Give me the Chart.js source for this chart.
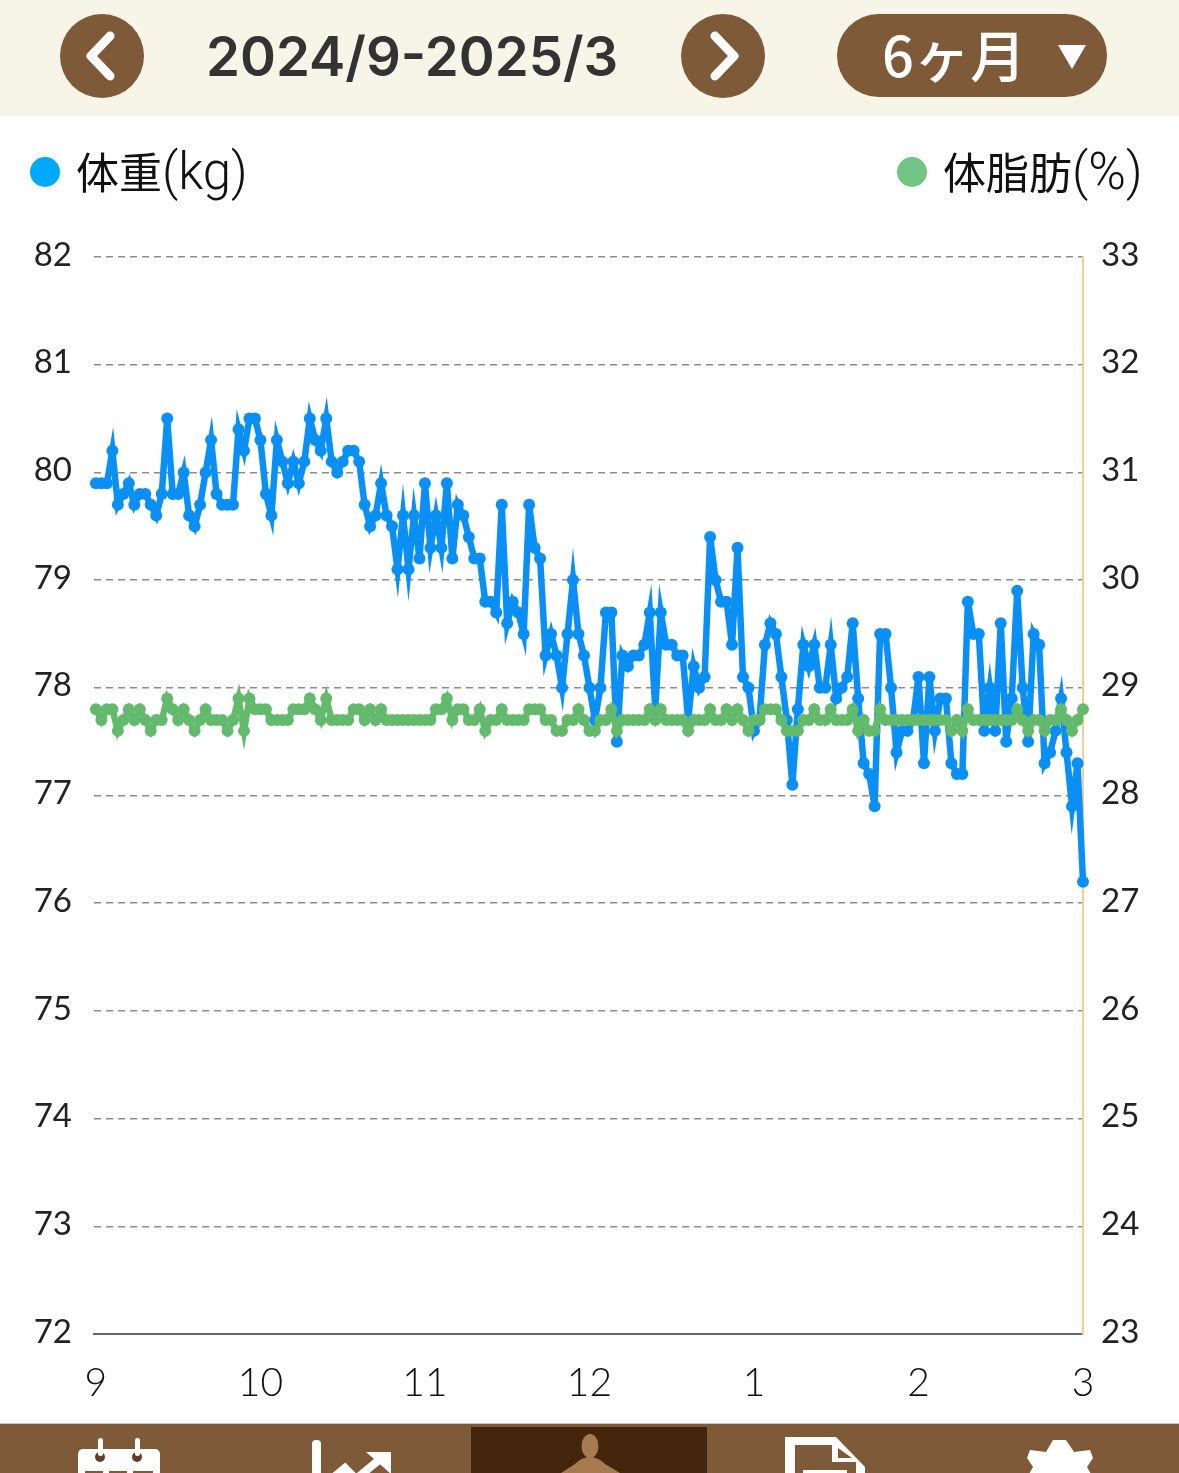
<!DOCTYPE html>
<html>
<head>
    <title>体重グラフ</title>
    <script src="https://cdn.jsdelivr.net/npm/chart.js"></script>
    <style>
        html, body { margin: 0; padding: 0; background: #fff; }
        #page { position: relative; width: 1179px; height: 1473px; overflow: hidden; font-family: "Noto Sans CJK JP", sans-serif; }
        #myChart { position: absolute; left: 0; top: 0; }
        .header { position: absolute; left: 0; top: 0; width: 1179px; height: 116px; background: #f7f5e8; }
        .round { position: absolute; top: 14px; width: 84px; height: 84px; border-radius: 50%; background: #7f5a38; }
        .round svg { position: absolute; left: 0; top: 0; }
        .range { position: absolute; left: 206px; top: 21px; font: 600 54.5px/70px Inter, sans-serif; color: #333; white-space: nowrap; }
        .pill { position: absolute; left: 837px; top: 14px; width: 270px; height: 83px; border-radius: 42px; background: #7f5a38; }
        .pill span { position: absolute; left: 45px; top: 0; color: #fff; font-size: 56px; line-height: 78px; font-weight: 500; white-space: nowrap; }
        .pill svg { position: absolute; left: 220px; top: 30px; }
        .dot { position: absolute; top: 157px; width: 30px; height: 30px; border-radius: 50%; }
        .legend { position: absolute; top: 140px; font-size: 43px; line-height: 60px; font-weight: 400; color: #111; white-space: nowrap; }
        .legend span { font-family: Roboto, sans-serif; font-weight: 300; font-size: 51px; }
        .nav { position: absolute; left: 0; top: 1423px; width: 1179px; height: 50px; background: #7f5a38; border-top: 1px solid #cfc8bd; box-sizing: border-box; overflow: hidden; }
        .nav svg { position: absolute; left: 0; top: 0; }
    </style>
</head>
<body>
<div id="page">
    <canvas id="myChart" width="1179" height="1473"></canvas>

    <div class="header"></div>
    <div class="round" style="left:60px"><svg width="84" height="84"><path d="M50 22 L31 42 L50 62" fill="none" stroke="#fff" stroke-width="9" stroke-linecap="round" stroke-linejoin="round"/></svg></div>
    <div class="range">2024/9-2025/3</div>
    <div class="round" style="left:681px"><svg width="84" height="84"><path d="M34 22 L53 42 L34 62" fill="none" stroke="#fff" stroke-width="9" stroke-linecap="round" stroke-linejoin="round"/></svg></div>
    <div class="pill"><span>6ヶ月</span><svg width="30" height="26"><path d="M1 1 H29 L15 25 Z" fill="#fff"/></svg></div>

    <div class="dot" style="left:30px;background:#00a8ff"></div>
    <div class="legend" style="left:76px">体重<span>(kg)</span></div>
    <div class="dot" style="left:897px;background:#72c583"></div>
    <div class="legend" style="left:943px">体脂肪<span>(%)</span></div>

    <div class="nav">
        <svg width="1179" height="49">
            <rect x="471" y="3" width="236" height="46" fill="#42250b"/>
            <!-- calendar -->
            <rect x="78" y="25" width="82" height="34" rx="5" fill="#fff"/>
            <circle cx="100" cy="33" r="5" fill="#5f4026"/>
            <circle cx="137" cy="33" r="5" fill="#5f4026"/>
            <rect x="98" y="14" width="5" height="18" rx="2.5" fill="#fff"/>
            <rect x="135" y="14" width="5" height="18" rx="2.5" fill="#fff"/>
            <rect x="85" y="47" width="18" height="6" fill="#7f5a38"/>
            <rect x="109" y="47" width="18" height="6" fill="#7f5a38"/>
            <rect x="133" y="47" width="20" height="6" fill="#7f5a38"/>
            <!-- graph -->
            <rect x="312" y="16" width="9" height="40" rx="4" fill="#fff"/>
            <path d="M334 53 L345 44 L356 55 L385 31" fill="none" stroke="#fff" stroke-width="8"/>
            <path d="M366 28 H391 V50 Z" fill="#fff"/>
            <!-- person -->
            <ellipse cx="590" cy="22" rx="8.5" ry="12" fill="#a87a50"/>
            <path d="M561 49 L575 40 Q582 33 590 33 Q598 33 605 40 L620 49 Z" fill="#a87a50"/>
            <!-- document -->
            <path d="M785 13 H836 L865 43 V60 H785 Z" fill="#fff"/>
            <path d="M795 21 H832 V38 H856 V60 H795 Z" fill="#7f5a38"/>
            <path d="M838 24 L852 34 H838 Z" fill="#7f5a38"/>
            <rect x="803" y="46" width="44" height="8" fill="#fff"/>
            <!-- gear -->
            <path d="M1053 16 H1066 L1074 28 L1090 26 L1093 34 L1087 43 L1091 50 H1029 L1033 43 L1027 34 L1030 26 L1046 28 Z" fill="#fff"/>
        </svg>
    </div>
</div>

<script>
    var monthLabels = ['9', '10', '11', '12', '1', '2', '3'];
    var weightTicks = [72, 73, 74, 75, 76, 77, 78, 79, 80, 81, 82];
    var fatTicks = [23, 24, 25, 26, 27, 28, 29, 30, 31, 32, 33];

    // daily readings, 1 point a day
    var weight = [
        79.9, 79.9, 79.9, 80.2, 79.7, 79.8, 79.9, 79.7, 79.8, 79.8,
        79.7, 79.6, 79.8, 80.5, 79.8, 79.8, 80.0, 79.6, 79.5, 79.7,
        80.0, 80.3, 79.8, 79.7, 79.7, 79.7, 80.4, 80.2, 80.5, 80.5,
        80.3, 79.8, 79.6, 80.3, 80.1, 79.9, 80.1, 79.9, 80.1, 80.5,
        80.3, 80.2, 80.5, 80.1, 80.0, 80.1, 80.2, 80.2, 80.1, 79.7,
        79.5, 79.6, 79.9, 79.6, 79.5, 79.1, 79.6, 79.1, 79.6, 79.2,
        79.9, 79.3, 79.6, 79.3, 79.9, 79.2, 79.7, 79.6, 79.4, 79.2,
        79.2, 78.8, 78.8, 78.7, 79.7, 78.6, 78.8, 78.7, 78.5, 79.7,
        79.3, 79.2, 78.3, 78.5, 78.3, 78.0, 78.5, 79.0, 78.5, 78.3,
        78.0, 77.7, 78.0, 78.7, 78.7, 77.5, 78.3, 78.2, 78.3, 78.3,
        78.4, 78.7, 77.8, 78.7, 78.4, 78.4, 78.3, 78.3, 77.7, 78.2,
        78.0, 78.1, 79.4, 79.0, 78.8, 78.8, 78.4, 79.3, 78.1, 78.0,
        77.6, 77.7, 78.4, 78.6, 78.5, 78.1, 77.7, 77.1, 77.8, 78.4,
        78.2, 78.4, 78.0, 78.0, 78.4, 77.9, 78.0, 78.1, 78.6, 77.9,
        77.3, 77.2, 76.9, 78.5, 78.5, 78.0, 77.4, 77.6, 77.6, 77.7,
        78.1, 77.3, 78.1, 77.6, 77.9, 77.9, 77.3, 77.2, 77.2, 78.8,
        78.5, 78.5, 77.6, 78.0, 77.6, 78.6, 77.5, 77.9, 78.9, 78.0,
        77.5, 78.5, 78.4, 77.3, 77.4, 77.6, 77.9, 77.4, 76.9, 77.3, 76.2
    ];
    var fat = [
        28.8, 28.7, 28.8, 28.8, 28.6, 28.7, 28.8, 28.7, 28.8, 28.7,
        28.6, 28.7, 28.7, 28.9, 28.8, 28.7, 28.8, 28.7, 28.6, 28.7,
        28.8, 28.7, 28.7, 28.7, 28.6, 28.7, 28.9, 28.6, 28.9, 28.8,
        28.8, 28.8, 28.7, 28.7, 28.7, 28.7, 28.8, 28.8, 28.8, 28.9,
        28.8, 28.7, 28.9, 28.7, 28.7, 28.7, 28.7, 28.8, 28.8, 28.7,
        28.8, 28.7, 28.8, 28.7, 28.7, 28.7, 28.7, 28.7, 28.7, 28.7,
        28.7, 28.7, 28.8, 28.8, 28.9, 28.7, 28.8, 28.8, 28.7, 28.7,
        28.8, 28.6, 28.7, 28.7, 28.8, 28.7, 28.7, 28.7, 28.7, 28.8,
        28.8, 28.8, 28.7, 28.7, 28.6, 28.6, 28.7, 28.7, 28.8, 28.7,
        28.6, 28.6, 28.7, 28.7, 28.8, 28.6, 28.7, 28.7, 28.7, 28.7,
        28.7, 28.8, 28.7, 28.8, 28.7, 28.7, 28.7, 28.7, 28.6, 28.7,
        28.7, 28.7, 28.8, 28.7, 28.7, 28.8, 28.7, 28.8, 28.7, 28.6,
        28.7, 28.7, 28.8, 28.8, 28.8, 28.7, 28.6, 28.6, 28.6, 28.7,
        28.7, 28.8, 28.7, 28.7, 28.8, 28.7, 28.7, 28.7, 28.8, 28.6,
        28.7, 28.6, 28.6, 28.8, 28.7, 28.7, 28.7, 28.7, 28.7, 28.7,
        28.7, 28.7, 28.7, 28.7, 28.7, 28.7, 28.6, 28.7, 28.6, 28.8,
        28.7, 28.7, 28.7, 28.7, 28.7, 28.7, 28.7, 28.7, 28.8, 28.7,
        28.6, 28.7, 28.7, 28.6, 28.7, 28.7, 28.8, 28.7, 28.6, 28.7, 28.8
    ];

    function toPoints(values) {
        return values.map(function(v, i) { return {x: i, y: v}; });
    }

    function setTicks(list) {
        return function(scale) {
            scale.ticks = list.map(function(v) { return {value: v}; });
        };
    }

    var tickFont = {family: 'Lato, "Liberation Sans", sans-serif', size: 33, weight: '400'};

    var ctx = document.getElementById('myChart').getContext('2d');
    var myChart = new Chart(ctx, {
        type: 'line',
        data: {
            datasets: [
                {label: '体重(kg)', data: toPoints(weight), yAxisID: 'y', order: 2, borderColor: '#0a8ff5', backgroundColor: '#0a8ff5', borderWidth: 6.5, pointRadius: 6, pointBorderWidth: 0, tension: 0, clip: false},
                {label: '体脂肪(%)', data: toPoints(fat), yAxisID: 'y1', order: 1, borderColor: '#64ba6c', backgroundColor: '#64ba6c', borderWidth: 6.5, pointRadius: 6, pointBorderWidth: 0, tension: 0, clip: false}
            ]
        },
        options: {
            responsive: false,
            animation: false,
            layout: {padding: {top: 257, left: 0, right: 0, bottom: 0}},
            plugins: {legend: {display: false}, tooltip: {enabled: false}},
            scales: {
                x: {
                    type: 'linear',
                    min: -0.35,
                    max: 180,
                    afterBuildTicks: function(scale) {
                        scale.ticks = monthLabels.map(function(m, k) { return {value: k * 30}; });
                    },
                    afterFit: function(scale) { scale.height = 139; },
                    grid: {display: false},
                    border: {display: true, color: '#666666', width: 2},
                    ticks: {
                        maxRotation: 0,
                        autoSkip: false,
                        padding: 18,
                        color: '#111',
                        font: {family: 'Lato, "Liberation Sans", sans-serif', size: 39, weight: '300'},
                        callback: function(value) { return monthLabels[value / 30]; }
                    }
                },
                y: {
                    position: 'left',
                    min: 72,
                    max: 82,
                    afterBuildTicks: setTicks(weightTicks),
                    afterFit: function(scale) { scale.width = 94; },
                    grid: {color: '#8c8c8c', lineWidth: 1.5, drawTicks: false},
                    border: {display: false, dash: [7, 5]},
                    ticks: {padding: 22, labelOffset: -2, color: '#222', font: tickFont}
                },
                y1: {
                    position: 'right',
                    min: 23,
                    max: 33,
                    afterBuildTicks: setTicks(fatTicks),
                    afterFit: function(scale) { scale.width = 96; },
                    grid: {display: false},
                    border: {display: true, color: '#f5ce96', width: 2},
                    ticks: {padding: 10, labelOffset: -2, color: '#222', font: tickFont}
                }
            }
        }
    });
</script>
</body>
</html>
